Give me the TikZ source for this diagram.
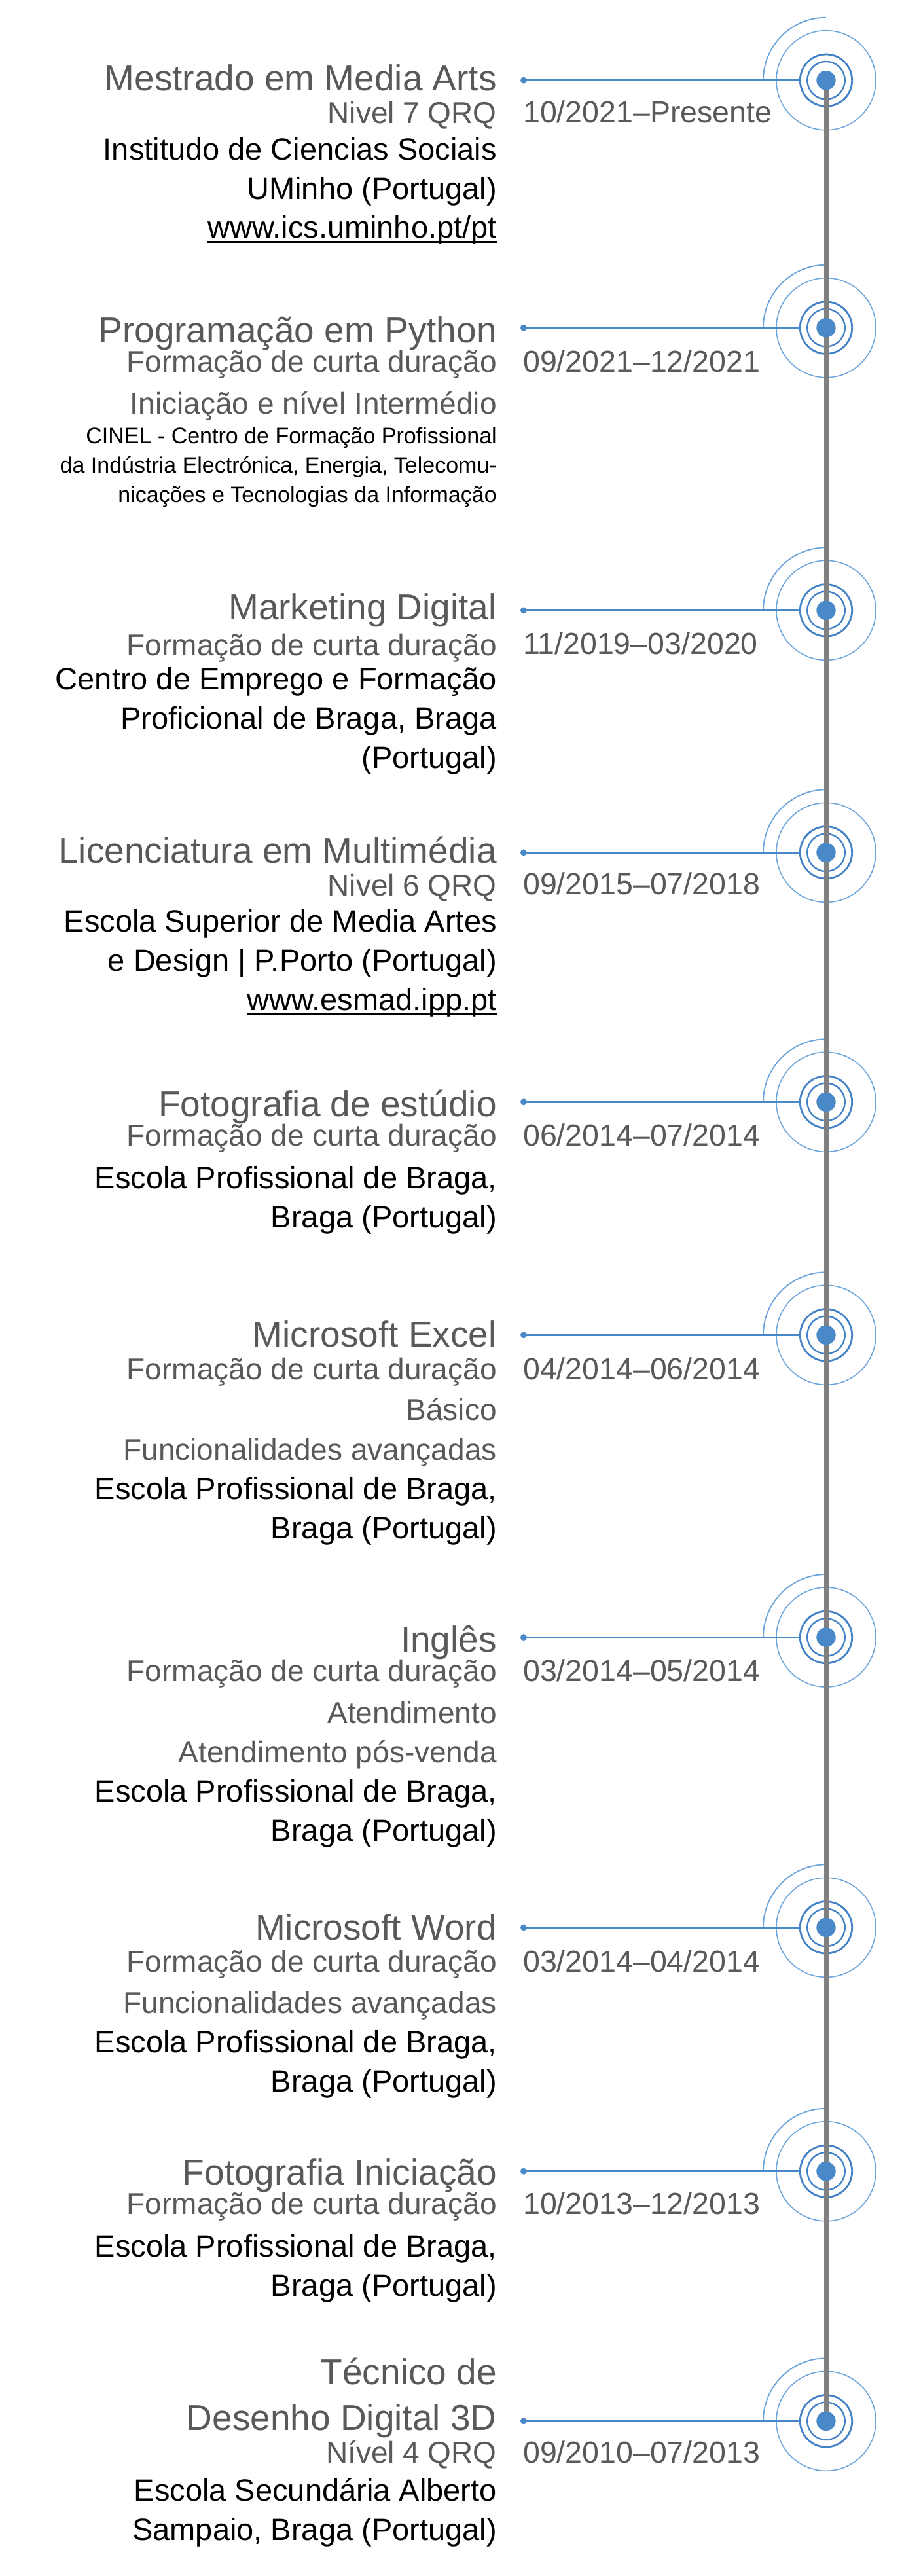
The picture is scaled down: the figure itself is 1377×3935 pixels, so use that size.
\documentclass[tikz,border=0pt]{standalone}
\usepackage{fontspec}
\setmainfont{Liberation Sans}
\definecolor{tgrey}{HTML}{595959}
\definecolor{dotblue}{HTML}{4A89C8}
\definecolor{ringblue}{HTML}{4382C6}
\definecolor{lightblue}{HTML}{6EA6DC}
\definecolor{linegrey}{HTML}{808080}
\begin{document}
\begin{tikzpicture}[x=1pt,y=1pt,
  ttl/.style={font=\fontsize{55}{60}\selectfont, text=tgrey, anchor=base east, inner sep=0},
  sub/.style={font=\fontsize{46}{50}\selectfont, text=tgrey, anchor=base east, inner sep=0},
  blk/.style={font=\fontsize{47}{50}\selectfont, text=black, anchor=base east, inner sep=0},
  sml/.style={font=\fontsize{34}{38}\selectfont, text=black, anchor=base east, inner sep=0},
  dat/.style={font=\fontsize{46.5}{50}\selectfont, text=tgrey, anchor=base west, inner sep=0},
  uline/.style={draw=black, line width=3.5},
  lightring/.style={draw=lightblue, line width=1.6},
  ringone/.style={draw=ringblue, line width=2.4},
  ringtwo/.style={circle, draw=ringblue, line width=2.8, minimum size=79.4, inner sep=0, outer sep=0},
  bigdot/.style={circle, fill=dotblue, minimum size=29.4, inner sep=0},
  startdot/.style={circle, fill=dotblue, minimum size=10, inner sep=0},
  hline/.style={draw=dotblue, line width=2.8},
  vline/.style={draw=linegrey, line width=7}
]
\useasboundingbox (0,0) rectangle (1377,-3935);
\fill[white] (0,0) rectangle (1377,-3935);

\foreach \i/\y in {1/122.7,2/500.7,3/932.3,4/1302.3,5/1683.3,6/2039.3,7/2501,8/2944.3,9/3316.7,10/3698.3}{
  \coordinate (c\i) at (1262,-\y);
  \draw[lightring] (c\i) circle[radius=76];
  \draw[lightring, line width=1.9] ([xshift=-96pt]c\i) arc[start angle=180, end angle=90, radius=96];
  \draw[ringone] (c\i) circle[radius=28.7];
  \node[ringtwo] (r\i) at (c\i) {};
  \node[startdot] (s\i) at (800,-\y) {};
  \draw[hline] (s\i.center) -- (r\i.west);
}
\draw[vline] (c1) -- (c10);
\foreach \i in {1,...,10}{
  \node[bigdot] (d\i) at (c\i) {};
}

% Entry 1
\node[ttl] (t1) at (759,-138) {Mestrado em Media Arts};
\node[sub] (q1) at (759,-188) {Nivel 7 QRQ};
\node[dat] (dt1) at (799,-187) {10/2021–Presente};
\node[blk] (b1a) at (759,-244) {Institudo de Ciencias Sociais};
\node[blk] (b1b) at (759,-304) {UMinho (Portugal)};
\node[blk] (b1c) at (759,-363) {www.ics.uminho.pt/pt};
\draw[uline] ([yshift=-6.5pt]b1c.base west) -- ([yshift=-6.5pt]b1c.base east);

% Entry 2
\node[ttl] (t2) at (759,-523) {Programação em Python};
\node[sub] (q2) at (759,-568) {Formação de curta duração};
\node[dat] (dt2) at (799,-568) {09/2021–12/2021};
\node[sub] (q2b) at (759,-632) {Iniciação e nível Intermédio};
\node[sml] (b2a) at (759,-677) {CINEL - Centro de Formação Profissional};
\node[sml] (b2b) at (759,-722) {da Indústria Electrónica, Energia, Telecomu-};
\node[sml] (b2c) at (759,-767) {nicações e Tecnologias da Informação};

% Entry 3
\node[ttl] (t3) at (759,-946) {Marketing Digital};
\node[sub] (q3) at (759,-1001) {Formação de curta duração};
\node[dat] (dt3) at (799,-999) {11/2019–03/2020};
\node[blk] (b3a) at (759,-1053) {Centro de Emprego e Formação};
\node[blk] (b3b) at (759,-1113) {Proficional de Braga, Braga};
\node[blk] (b3c) at (759,-1173) {(Portugal)};

% Entry 4
\node[ttl] (t4) at (759,-1318) {Licenciatura em Multimédia};
\node[sub] (q4) at (759,-1368) {Nivel 6 QRQ};
\node[dat] (dt4) at (799,-1366) {09/2015–07/2018};
\node[blk] (b4a) at (759,-1423) {Escola Superior de Media Artes};
\node[blk] (b4b) at (759,-1483) {e Design | P.Porto (Portugal)};
\node[blk] (b4c) at (759,-1543) {www.esmad.ipp.pt};
\draw[uline] ([yshift=-6.5pt]b4c.base west) -- ([yshift=-6.5pt]b4c.base east);

% Entry 5
\node[ttl] (t5) at (759,-1705) {Fotografia de estúdio};
\node[sub] (q5) at (759,-1750) {Formação de curta duração};
\node[dat] (dt5) at (799,-1750) {06/2014–07/2014};
\node[blk] (b5a) at (759,-1815) {Escola Profissional de Braga,};
\node[blk] (b5b) at (759,-1875) {Braga (Portugal)};

% Entry 6
\node[ttl] (t6) at (759,-2057) {Microsoft Excel};
\node[sub] (q6) at (759,-2107) {Formação de curta duração};
\node[dat] (dt6) at (799,-2107) {04/2014–06/2014};
\node[sub] (q6b) at (759,-2169) {Básico};
\node[sub] (q6c) at (759,-2230) {Funcionalidades avançadas};
\node[blk] (b6a) at (759,-2290) {Escola Profissional de Braga,};
\node[blk] (b6b) at (759,-2350) {Braga (Portugal)};

% Entry 7
\node[ttl] (t7) at (759,-2523) {Inglês};
\node[sub] (q7) at (759,-2568) {Formação de curta duração};
\node[dat] (dt7) at (799,-2568) {03/2014–05/2014};
\node[sub] (q7b) at (759,-2632) {Atendimento};
\node[sub] (q7c) at (759,-2692) {Atendimento pós-venda};
\node[blk] (b7a) at (759,-2752) {Escola Profissional de Braga,};
\node[blk] (b7b) at (759,-2812) {Braga (Portugal)};

% Entry 8
\node[ttl] (t8) at (759,-2963) {Microsoft Word};
\node[sub] (q8) at (759,-3012) {Formação de curta duração};
\node[dat] (dt8) at (799,-3012) {03/2014–04/2014};
\node[sub] (q8b) at (759,-3075) {Funcionalidades avançadas};
\node[blk] (b8a) at (759,-3135) {Escola Profissional de Braga,};
\node[blk] (b8b) at (759,-3195) {Braga (Portugal)};

% Entry 9
\node[ttl] (t9) at (759,-3337) {Fotografia Iniciação};
\node[sub] (q9) at (759,-3382) {Formação de curta duração};
\node[dat] (dt9) at (799,-3382) {10/2013–12/2013};
\node[blk] (b9a) at (759,-3447) {Escola Profissional de Braga,};
\node[blk] (b9b) at (759,-3507) {Braga (Portugal)};

% Entry 10
\node[ttl] (t10a) at (759,-3642) {Técnico de};
\node[ttl] (t10b) at (759,-3712) {Desenho Digital 3D};
\node[sub] (q10) at (759,-3762) {Nível 4 QRQ};
\node[dat] (dt10) at (799,-3762) {09/2010–07/2013};
\node[blk] (b10a) at (759,-3820) {Escola Secundária Alberto};
\node[blk] (b10b) at (759,-3880) {Sampaio, Braga (Portugal)};
\end{tikzpicture}
\end{document}
